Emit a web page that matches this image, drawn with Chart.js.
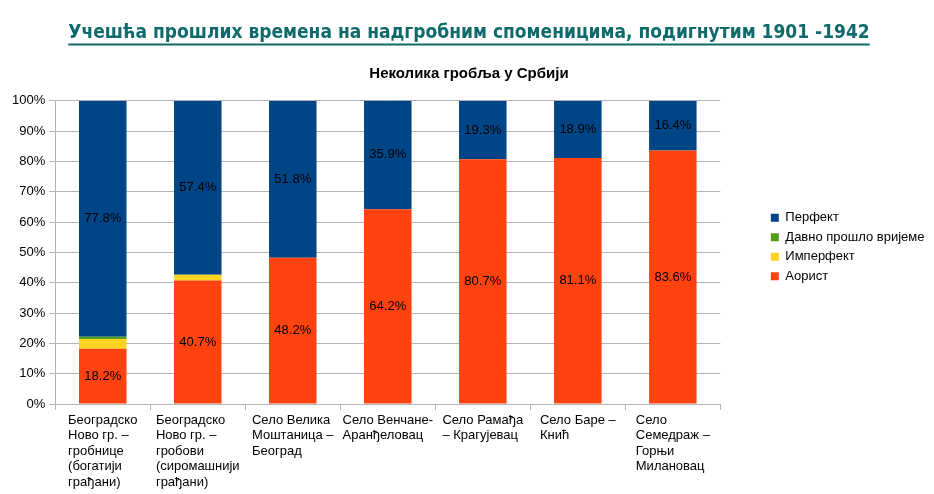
<!DOCTYPE html>
<html>
<head>
<meta charset="utf-8">
<script src="https://cdn.jsdelivr.net/npm/chart.js@4/dist/chart.umd.min.js"></script>
<style>
  html, body { margin: 0; padding: 0; background: #fff; }
  #wrap { width: 934px; height: 494px; }
</style>
</head>
<body>
<div id="wrap"><canvas id="chart"></canvas></div>
<script>
var categories = [
	["Београдско", "Ново гр. –", "гробнице", "(богатији", "грађани)"],
	["Београдско", "Ново гр. –", "гробови", "(сиромашнији", "грађани)"],
	["Село Велика", "Моштаница –", "Београд"],
	["Село Венчане-", "Аранђеловац"],
	["Село Рамађа", "– Крагујевац"],
	["Село Баре –", "Кнић"],
	["Село", "Семедраж –", "Горњи", "Милановац"]
];
var aorist = [18.2, 40.7, 48.2, 64.2, 80.7, 81.1, 83.6];
var imperfekt = [3.2, 1.9, 0, 0, 0, 0, 0];
var davno = [0.8, 0, 0, 0, 0, 0, 0];
var perfekt = [77.8, 57.4, 51.8, 35.9, 19.3, 18.9, 16.4];
var yTicks = [0, 10, 20, 30, 40, 50, 60, 70, 80, 90, 100];

var titleText = "Учешћа прошлих времена на надгробним споменицима, подигнутим 1901 -1942";
var subtitleText = "Неколика гробља у Србији";
var titleFont = { family: "'DejaVu Sans Condensed', 'Liberation Sans', sans-serif", size: 19, weight: "bold" };
var titleColor = "#0f6b6b";
var baseFamily = "'Liberation Sans', Arial, sans-serif";

Chart.defaults.font.family = baseFamily;
Chart.defaults.font.size = 13;
Chart.defaults.color = "#000";

// value labels in the middle of the segments
var segmentLabels = {
	id: "segmentLabels",
	afterDatasetsDraw: function (chart) {
		var ctx = chart.ctx;
		ctx.save();
		ctx.font = "13px " + baseFamily;
		ctx.fillStyle = "#000";
		ctx.textAlign = "center";
		ctx.textBaseline = "middle";
		chart.data.datasets.forEach(function (ds, di) {
			if (!ds.showValues) return;
			chart.getDatasetMeta(di).data.forEach(function (bar, i) {
				var v = ds.data[i];
				if (!v) return;
				ctx.fillText(v.toFixed(1) + "%", bar.x, (bar.y + bar.base) / 2);
			});
		});
		ctx.restore();
	}
};

// category labels: wrapped lines, left aligned, block centred under the tick
var categoryLabels = {
	id: "categoryLabels",
	afterDraw: function (chart) {
		var xs = chart.scales.x;
		var ctx = chart.ctx;
		var lineH = 15.5;
		ctx.save();
		ctx.font = "13px " + baseFamily;
		ctx.fillStyle = "#000";
		ctx.textAlign = "left";
		ctx.textBaseline = "middle";
		categories.forEach(function (lines, i) {
			var w = 0;
			lines.forEach(function (l) { w = Math.max(w, ctx.measureText(l).width); });
			var left = xs.getPixelForTick(i) - w / 2;
			lines.forEach(function (l, k) {
				ctx.fillText(l, left, xs.top + 16 + k * lineH);
			});
		});
		ctx.restore();
	}
};

// underline for the main title
var titleUnderline = {
	id: "titleUnderline",
	afterDraw: function (chart) {
		var tb = chart.titleBlock;
		if (!tb) return;
		var ctx = chart.ctx;
		ctx.save();
		ctx.font = titleFont.weight + " " + titleFont.size + "px " + titleFont.family;
		var w = ctx.measureText(titleText).width;
		var cx = (tb.left + tb.right) / 2;
		var y = tb.top + tb.options.padding.top + titleFont.size * 1.2 / 2 + titleFont.size * 0.58;
		ctx.strokeStyle = titleColor;
		ctx.lineWidth = 2;
		ctx.beginPath();
		ctx.moveTo(cx - w / 2, y);
		ctx.lineTo(cx + w / 2, y);
		ctx.stroke();
		ctx.restore();
	}
};

// legend box a bit wider than its measured text
var legendWidth = {
	id: "legendWidth",
	beforeInit: function (chart) {
		var lg = chart.legend;
		if (!lg) return;
		var origFit = lg.fit;
		lg.fit = function () {
			origFit.call(this);
			if (!this.isHorizontal()) this.width += 12;
		};
	}
};

new Chart(document.getElementById("chart"), {
	type: "bar",
	data: {
		labels: categories,
		datasets: [
			{ label: "Аорист", data: aorist, backgroundColor: "#ff420e", showValues: true },
			{ label: "Имперфект", data: imperfekt, backgroundColor: "#ffd320" },
			{ label: "Давно прошло вријеме", data: davno, backgroundColor: "#579d1c" },
			{ label: "Перфект", data: perfekt, backgroundColor: "#004586", showValues: true }
		]
	},
	options: {
		responsive: true,
		maintainAspectRatio: false,
		animation: false,
		layout: { padding: { left: 8, right: 4, bottom: 0 } },
		datasets: { bar: { categoryPercentage: 1, barPercentage: 0.5 } },
		scales: {
			x: {
				stacked: true,
				grid: { display: true, drawOnChartArea: false, color: "#b3b3b3", tickLength: 6 },
				border: { color: "#b3b3b3" },
				ticks: { display: false },
				afterFit: function (scale) { scale.height = 90; }
			},
			y: {
				stacked: true,
				min: 0,
				max: 100,
				afterBuildTicks: function (scale) {
					scale.ticks = yTicks.map(function (v) { return { value: v }; });
				},
				grid: { color: "#b3b3b3", tickLength: 6 },
				border: { color: "#b3b3b3" },
				ticks: { callback: function (v) { return v + "%"; }, padding: 4 }
			},
			spacer: {
				position: "right",
				display: true,
				grid: { display: false },
				border: { display: false },
				ticks: { display: false },
				afterFit: function (scale) { scale.width = 44; }
			}
		},
		plugins: {
			title: {
				display: true,
				text: titleText,
				color: titleColor,
				font: titleFont,
				padding: { top: 22, bottom: 20 }
			},
			subtitle: {
				display: true,
				text: subtitleText,
				color: "#000",
				font: { size: 15, weight: "bold" },
				padding: { top: 0, bottom: 18 }
			},
			legend: {
				position: "right",
				reverse: true,
				labels: { boxWidth: 8, boxHeight: 8, padding: 6.5, font: { size: 13 }, color: "#000" }
			},
			tooltip: { enabled: false }
		}
	},
	plugins: [segmentLabels, categoryLabels, titleUnderline, legendWidth]
});
</script>
</body>
</html>
